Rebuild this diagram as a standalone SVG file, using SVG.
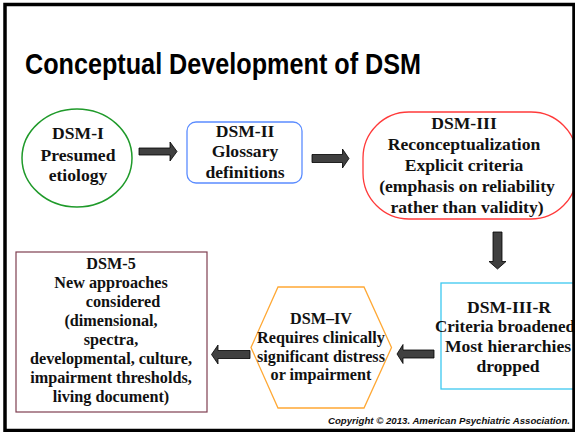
<svg xmlns="http://www.w3.org/2000/svg" width="575" height="432" viewBox="0 0 575 432">
<style>
.t{font-family:"Liberation Serif","Times New Roman",serif;font-weight:bold;fill:#111;text-anchor:middle}
.s17{font-size:17.6px}
.s16{font-size:16.2px}
.arr{fill:#404040;stroke:#000;stroke-width:0.8;stroke-linejoin:miter}
</style>
<rect x="0" y="0" width="575" height="432" fill="#fff"/>
<text x="25" y="74" font-family="Liberation Sans, Arial, sans-serif" font-weight="bold" font-size="30" textLength="396" lengthAdjust="spacingAndGlyphs" fill="#000">Conceptual Development of DSM</text>

<g id="dsm1">
<ellipse cx="77" cy="158" rx="55" ry="49" fill="#fff" stroke="#1f9a2a" stroke-width="1.5"/>
<text class="t s17" x="78" y="139">DSM-I</text>
<text class="t s17" x="78" y="161">Presumed</text>
<text class="t s17" x="78" y="181">etiology</text>
</g>

<g id="dsm2">
<rect x="187" y="122" width="115" height="61" rx="9" fill="#fff" stroke="#5b8cff" stroke-width="1.3"/>
<text class="t s17" x="245" y="137">DSM-II</text>
<text class="t s17" x="245" y="157">Glossary</text>
<text class="t s17" x="245" y="178">definitions</text>
</g>

<g id="dsm3">
<rect x="363" y="112" width="214" height="107" rx="46" fill="#fff" stroke="#ff3a3a" stroke-width="1.3"/>
<text class="t s17" x="464" y="129">DSM-III</text>
<text class="t s17" x="464" y="150">Reconceptualization</text>
<text class="t s17" x="464" y="171">Explicit criteria</text>
<text class="t s17" x="467" y="192">(emphasis on reliability</text>
<text class="t s17" x="467" y="213">rather than validity)</text>
</g>

<g id="dsm3r">
<rect x="441" y="283" width="140" height="106" fill="#fff" stroke="#3cc8f0" stroke-width="1.3"/>
<text class="t s17" x="509" y="313">DSM-III-R</text>
<text class="t" font-size="17" x="505" y="332">Criteria broadened</text>
<text class="t s17" x="508" y="352">Most hierarchies</text>
<text class="t s17" x="508" y="372">dropped</text>
</g>

<g id="dsm4">
<polygon points="251,347.5 278,287 364,287 391.5,347.5 364,408 278,408" fill="#fff" stroke="#ffa834" stroke-width="1.3"/>
<text class="t s16" x="321" y="324">DSM–IV</text>
<text class="t s16" x="321" y="343">Requires clinically</text>
<text class="t s16" x="321" y="362">significant distress</text>
<text class="t s16" x="321" y="380">or impairment</text>
</g>

<g id="dsm5">
<rect x="16" y="252" width="191" height="160" fill="#fff" stroke="#7f3f50" stroke-width="1.2"/>
<text class="t s16" x="111" y="269">DSM-5</text>
<text class="t s16" x="111" y="288">New approaches</text>
<text class="t s16" x="123" y="307">considered</text>
<text class="t s16" x="111" y="326">(dimensional,</text>
<text class="t s16" x="111" y="345">spectra,</text>
<text class="t s16" x="111" y="364">developmental, culture,</text>
<text class="t s16" x="111" y="383">impairment thresholds,</text>
<text class="t s16" x="111" y="402">living document)</text>
</g>

<g id="connectors">
<path class="arr" d="M139,148 H170 V142 L177,151.5 L170,161 V155 H139 Z"/>
<path class="arr" d="M312,154.5 H342.5 V149 L349,158.5 L342.5,168 V162.5 H312 Z"/>
<path class="arr" d="M493,232 V261.5 H489 L497.5,269 L506,261.5 H502 V232 Z"/>
<path class="arr" d="M434,350 H403 V344.5 L397,354 L403,363.5 V358 H434 Z"/>
<path class="arr" d="M250,350.5 H218 V345 L211.5,354.5 L218,364 V358.5 H250 Z"/>
</g>

<text x="570" y="424" font-family="Liberation Sans, Arial, sans-serif" font-weight="bold" font-style="italic" font-size="9.5" text-anchor="end" textLength="242" lengthAdjust="spacingAndGlyphs" fill="#111">Copyright © 2013.  American Psychiatric Association.</text>

<rect x="5" y="4.5" width="569" height="426" fill="none" stroke="#000" stroke-width="3.5"/>
</svg>
